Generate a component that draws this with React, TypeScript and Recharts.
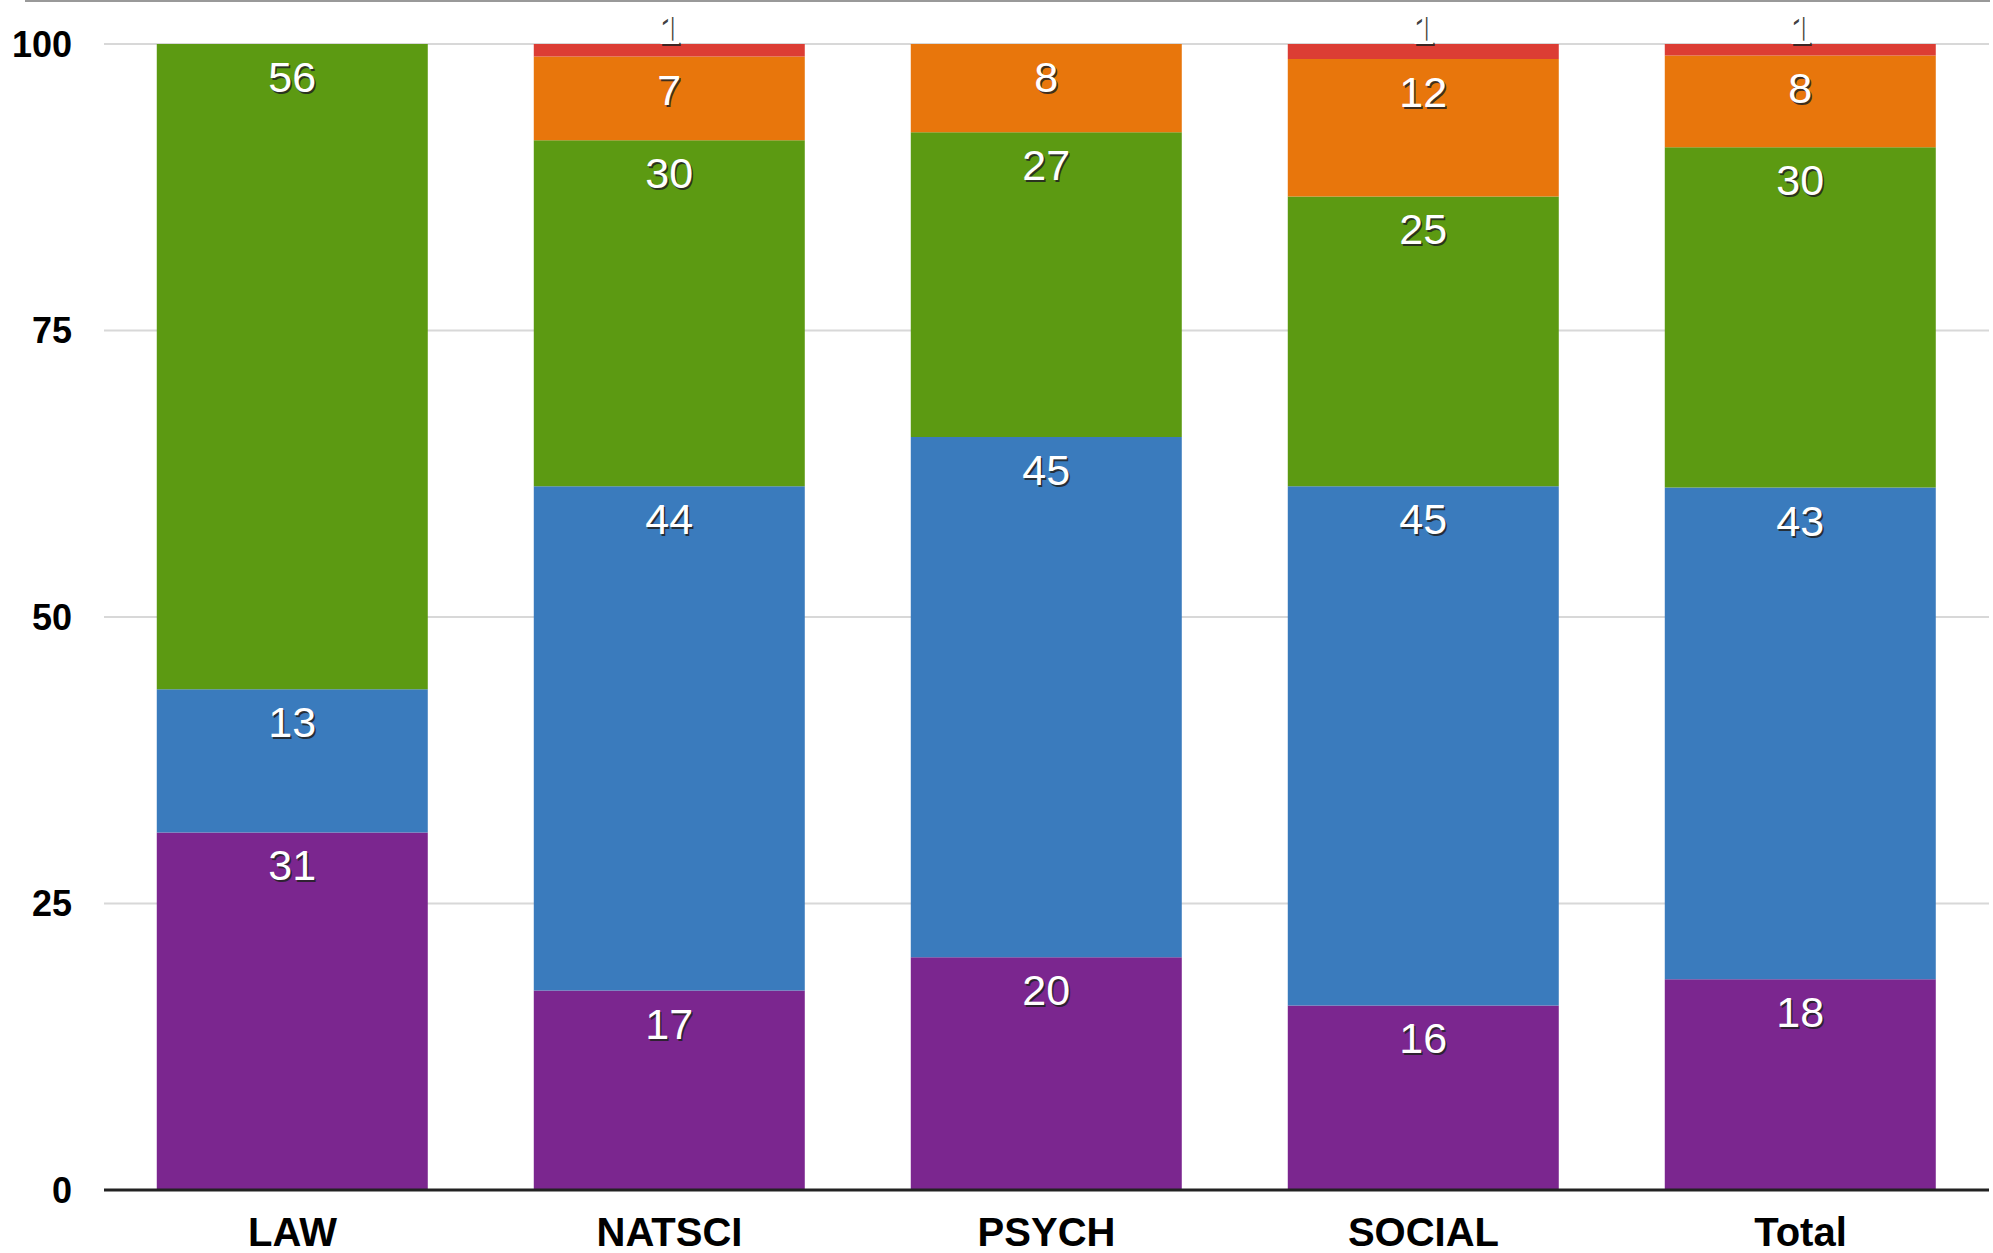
import { BarChart, Bar, XAxis, YAxis, CartesianGrid, LabelList } from 'recharts';

const categories = ['LAW', 'NATSCI', 'PSYCH', 'SOCIAL', 'Total'];
const purple = [31.2, 17.4, 20.3, 16.1, 18.4];
const blue = [12.5, 44.0, 45.4, 45.3, 42.9];
const green = [56.3, 30.2, 26.6, 25.3, 29.7];
const orange = [0, 7.3, 7.7, 12.0, 8.0];
const red = [0, 1.1, 0, 1.3, 1.0];
const yTicks = [0, 25, 50, 75, 100];

const series = [
  { key: 'purple', color: '#7b268f', values: purple },
  { key: 'blue', color: '#3a7bbd', values: blue },
  { key: 'green', color: '#5c9a12', values: green },
  { key: 'orange', color: '#e8760c', values: orange },
  { key: 'red', color: '#dc3d34', values: red },
];

const data = categories.map((name, i) => {
  const row: Record<string, any> = { name };
  series.forEach((s) => { row[s.key] = s.values[i]; });
  return row;
});

const axisFont = '"Liberation Sans Narrow", "Liberation Sans", Arial, sans-serif';
const labelFont = '"Liberation Sans", Arial, sans-serif';

function SegLabel(props: any) {
  const { x, y, width, value } = props;
  if (!value) return null;
  const cx = x + width / 2;
  const small = value < 3;
  const ty = small ? y - 15 : y + 33;
  const text = String(Math.round(value));
  return (
    <g>
      <text x={cx + 1.5} y={ty + 2} textAnchor="middle" dominantBaseline="central" fontSize={43} fontFamily={labelFont} fill="#222" opacity={0.85}>{text}</text>
      <text x={cx} y={ty} textAnchor="middle" dominantBaseline="central" fontSize={43} fontFamily={labelFont} fill="#fff">{text}</text>
    </g>
  );
}

export default function App() {
  return (
    <div style={{ position: 'absolute', left: 0, top: 0, width: 1993, height: 1253, background: '#fff' }}>
      <div style={{ position: 'absolute', left: 25, top: 0, width: 1965, height: 2, background: '#999' }} />
      <BarChart width={1993} height={1253} data={data} margin={{ top: 44, right: 4, bottom: 0, left: 0 }} barCategoryGap="14%">
        <CartesianGrid vertical={false} stroke="#d8d8d8" strokeWidth={2} />
        <XAxis
          dataKey="name"
          height={63}
          tickLine={false}
          axisLine={{ stroke: '#222', strokeWidth: 3 }}
          tickSize={6}
          tickMargin={22}
          tick={{ fontSize: 40, fontWeight: 700, fill: '#000', fontFamily: axisFont }}
        />
        <YAxis
          width={104}
          domain={[0, 100]}
          ticks={yTicks}
          axisLine={false}
          tickLine={false}
          tickSize={6}
          tickMargin={26}
          tick={{ fontSize: 36, fontWeight: 700, fill: '#000', fontFamily: axisFont }}
        />
        {series.map((s) => (
          <Bar key={s.key} dataKey={s.key} stackId="a" fill={s.color} isAnimationActive={false}>
            <LabelList dataKey={s.key} content={SegLabel} />
          </Bar>
        ))}
      </BarChart>
    </div>
  );
}
